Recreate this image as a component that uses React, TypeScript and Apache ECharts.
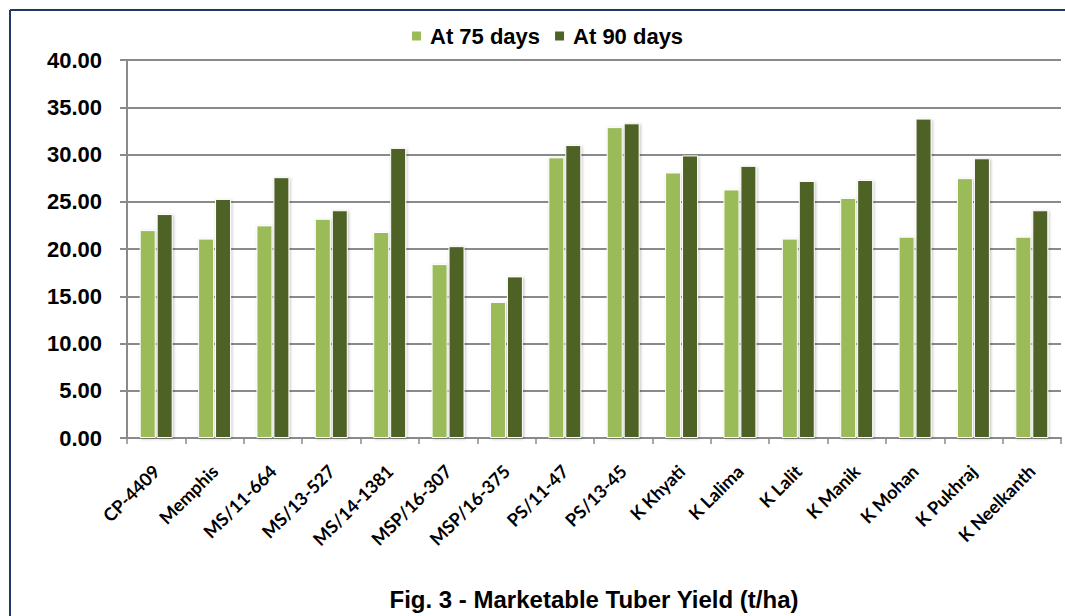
import React, { useEffect, useRef } from "react";
import * as echarts from "echarts";

const categories = [
  "CP-4409", "Memphis", "MS/11-664", "MS/13-527", "MS/14-1381", "MSP/16-307",
  "MSP/16-375", "PS/11-47", "PS/13-45", "K Khyati", "K Lalima", "K Lalit",
  "K Manik", "K Mohan", "K Pukhraj", "K Neelkanth",
];
const at75 = [22.0, 21.1, 22.5, 23.2, 21.8, 18.4, 14.4, 29.7, 32.9, 28.1, 26.3, 21.1, 25.4, 21.3, 27.5, 21.3];
const at90 = [23.7, 25.3, 27.6, 24.1, 30.7, 20.3, 17.1, 31.0, 33.3, 29.9, 28.8, 27.2, 27.3, 33.8, 29.6, 24.1];
const yTicks = { min: 0, max: 40, interval: 5 };
const titleText = "Fig. 3 - Marketable Tuber Yield (t/ha)";

const SANS = "'Liberation Sans', Arial, sans-serif";
const CAL = "Lato, 'Open Sans', sans-serif";

export default function App() {
  const ref = useRef<HTMLDivElement>(null);
  useEffect(() => {
    if (!ref.current) return;
    const chart = echarts.init(ref.current, null, { renderer: "svg" });
    const barStyle = (color: string) => ({
      color,
      borderColor: "#ffffff",
      borderWidth: 1,
      shadowColor: "rgba(0,0,0,0.25)",
      shadowBlur: 3,
      shadowOffsetX: 1,
      shadowOffsetY: 1,
    });
    chart.setOption({
      animation: false,
      backgroundColor: "#ffffff",
      grid: { left: 127, top: 60, right: 4, bottom: 178, containLabel: false },
      legend: {
        left: 405,
        top: 20,
        itemWidth: 11,
        itemHeight: 11,
        itemGap: 13,
        icon: "rect",
        textStyle: { fontFamily: SANS, fontWeight: "bold", fontSize: 22, color: "#000", padding: [0, 0, 0, 3] },
        data: ["At 75 days", "At 90 days"],
      },
      xAxis: {
        type: "category",
        data: categories,
        axisLine: { lineStyle: { color: "#8a8a8a", width: 2 } },
        axisTick: { show: true, length: 6, lineStyle: { color: "#8a8a8a", width: 1.5 } },
        axisLabel: {
          rotate: 45,
          interval: 0,
          margin: 30,
          fontFamily: CAL,
          fontWeight: "bold",
          fontSize: 18,
          color: "#000",
        },
      },
      yAxis: {
        type: "value",
        min: yTicks.min,
        max: yTicks.max,
        interval: yTicks.interval,
        axisLine: { show: true, lineStyle: { color: "#8a8a8a", width: 2 } },
        axisTick: { show: true, length: 7, lineStyle: { color: "#8a8a8a", width: 2 } },
        splitLine: { lineStyle: { color: "#8a8a8a", width: 2 } },
        axisLabel: {
          margin: 25,
          formatter: (v: number) => v.toFixed(2),
          fontFamily: SANS,
          fontWeight: "bold",
          fontSize: 22,
          color: "#000",
        },
      },
      series: [
        {
          name: "At 75 days",
          type: "bar",
          data: at75,
          barWidth: 16,
          barGap: "6%",
          itemStyle: barStyle("#9BBB59"),
        },
        {
          name: "At 90 days",
          type: "bar",
          data: at90,
          barWidth: 16,
          itemStyle: barStyle("#4F6228"),
        },
      ],
      graphic: [
        { type: "line", shape: { x1: 10, y1: 10, x2: 1065, y2: 10 }, style: { stroke: "#1F3864", lineWidth: 2 } },
        { type: "line", shape: { x1: 10, y1: 10, x2: 10, y2: 616 }, style: { stroke: "#1F3864", lineWidth: 2 } },
        {
          type: "text",
          x: 594,
          y: 599,
          style: {
            text: titleText,
            fontFamily: SANS,
            fontWeight: "bold",
            fontSize: 24,
            fill: "#000",
            align: "center",
            verticalAlign: "middle",
          },
        },
      ],
    });
    return () => chart.dispose();
  }, []);
  return <div ref={ref} style={{ position: "fixed", left: 0, top: 0, width: 1065, height: 616 }} />;
}
